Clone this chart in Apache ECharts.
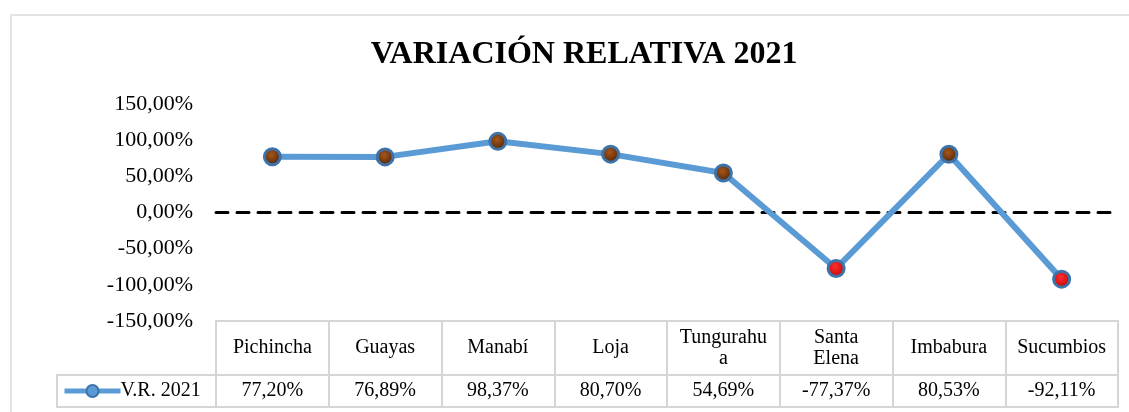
<!DOCTYPE html>
<html>
<head>
<meta charset="utf-8">
<title>Variación relativa 2021</title>
<script src="https://cdn.jsdelivr.net/npm/echarts@6/dist/echarts.min.js"></script>
<style>
  html, body { margin: 0; padding: 0; background: #fff; }
  #chart { width: 1129px; height: 412px; }
</style>
</head>
<body>
<div id="chart"></div>
<script>
// datos del grafico
const provincias = ['Pichincha', 'Guayas', 'Manabí', 'Loja', 'Tungurahua', 'Santa Elena', 'Imbabura', 'Sucumbios']
const etiquetas = ['Pichincha', 'Guayas', 'Manabí', 'Loja', 'Tungurahu\na', 'Santa\nElena', 'Imbabura', 'Sucumbios']
const variacion = [77.20, 76.89, 98.37, 80.70, 54.69, -77.37, 80.53, -92.11]
const serieNombre = 'V.R. 2021'

const fuente = '"Liberation Serif", "Times New Roman", serif'
const borde = '#d6d6d6'
const fmt = v => v.toFixed(2).replace('.', ',') + '%'

const myChart = echarts.init(document.getElementById('chart'))

// puntos: cafe si es positivo, rojo si es negativo
const puntos = variacion.map(v => ({
  value: v,
  itemStyle: {
    color: new echarts.graphic.RadialGradient(0.45, 0.4, 0.6, [
      { offset: 0, color: v < 0 ? '#ff3030' : '#a8561a' },
      { offset: 1, color: v < 0 ? '#c00000' : '#4a2206' }
    ])
  }
}))

myChart.setOption({
  animation: false,
  title: {
    text: 'VARIACIÓN RELATIVA 2021',
    left: 579,
    top: 34,
    textAlign: 'center',
    textStyle: { fontFamily: fuente, fontWeight: 'bold', fontSize: 32, color: '#000' }
  },
  legend: {
    left: 62,
    top: 381,
    itemWidth: 56,
    itemHeight: 15,
    itemGap: 0,
    padding: 0,
    data: [serieNombre],
    lineStyle: { width: 5, color: '#5b9bd5' },
    itemStyle: { color: '#5b9bd5', borderColor: '#3d73a8', borderWidth: 2 },
    textStyle: { fontFamily: fuente, fontSize: 20, color: '#000', padding: [0, 0, 0, -5] }
  },
  graphic: [
    {
      type: 'rect',
      shape: { x: 11, y: 15, width: 1140, height: 420 },
      style: { fill: 'none', stroke: '#dcdcdc', lineWidth: 1.5 },
      silent: true
    }
  ],
  grid: [
    // area del grafico
    { left: 216, right: 11, top: 104, height: 217 },
    // fila de encabezados de la tabla
    { left: 216, right: 11, top: 321, height: 54, show: true, borderColor: borde, borderWidth: 2 },
    // fila de valores (incluye celda de leyenda)
    { left: 57, right: 11, top: 375, height: 32, show: true, borderColor: borde, borderWidth: 2 }
  ],
  xAxis: [
    {
      gridIndex: 0,
      type: 'category',
      data: provincias,
      axisLine: { onZero: true, lineStyle: { color: '#000', width: 3, type: [12, 9] } },
      axisTick: { show: false },
      axisLabel: { show: false }
    },
    {
      gridIndex: 1,
      type: 'category',
      position: 'top',
      data: etiquetas,
      axisLine: { onZero: false, lineStyle: { color: borde, width: 2 } },
      axisTick: { show: true, inside: true, length: 54, lineStyle: { color: borde, width: 2 } },
      axisLabel: {
        inside: true,
        margin: 27,
        interval: 0,
        verticalAlign: 'middle',
        lineHeight: 21,
        fontFamily: fuente,
        fontSize: 20,
        color: '#000'
      }
    },
    {
      gridIndex: 1,
      type: 'category',
      position: 'bottom',
      data: variacion.map(fmt),
      axisLine: { onZero: false, lineStyle: { color: borde, width: 2 } },
      axisTick: { show: true, length: 32, lineStyle: { color: borde, width: 2 } },
      axisLabel: {
        margin: 16,
        interval: 0,
        verticalAlign: 'middle',
        fontFamily: fuente,
        fontSize: 20,
        color: '#000'
      }
    },
    {
      gridIndex: 2,
      type: 'value',
      show: false
    }
  ],
  yAxis: [
    {
      gridIndex: 0,
      type: 'value',
      min: -150,
      max: 150,
      interval: 50,
      axisLine: { show: false },
      axisTick: { show: false },
      splitLine: { show: false },
      axisLabel: {
        margin: 23,
        fontFamily: fuente,
        fontSize: 22,
        color: '#000',
        formatter: fmt
      }
    },
    { gridIndex: 1, type: 'value', show: false },
    { gridIndex: 2, type: 'value', show: false }
  ],
  series: [
    {
      name: serieNombre,
      type: 'line',
      xAxisIndex: 0,
      yAxisIndex: 0,
      data: puntos,
      symbol: 'circle',
      symbolSize: 16,
      lineStyle: { color: '#5b9bd5', width: 6 },
      itemStyle: { color: '#5b9bd5', borderColor: '#3d73a8', borderWidth: 3 },
      z: 5
    }
  ]
})

window.addEventListener('resize', () => {
  myChart.resize()
})
</script>
</body>
</html>
